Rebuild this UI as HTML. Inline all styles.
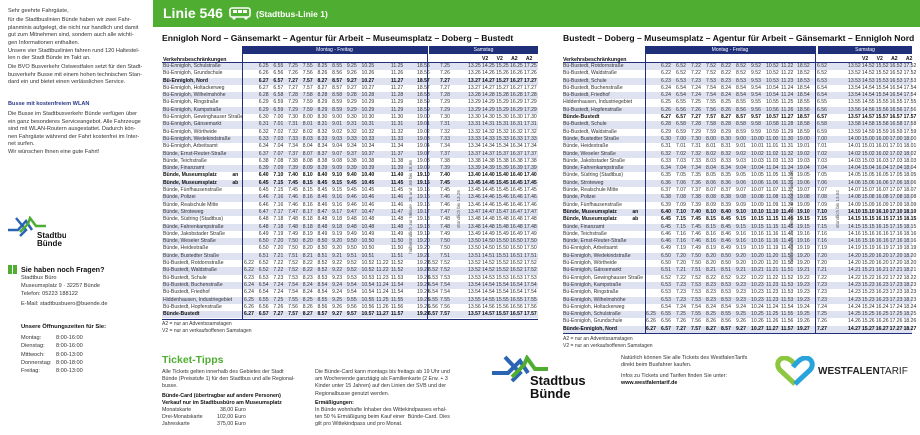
<!DOCTYPE html>
<html><head><meta charset="utf-8"><style>
*{margin:0;padding:0;box-sizing:border-box}
body{width:920px;height:435px;background:#fff;position:relative;overflow:hidden;font-family:"Liberation Sans",sans-serif;color:#333}
.a0{position:absolute;white-space:nowrap}
.lt{font-size:5.6px;line-height:7.5px}
.tb{position:absolute;top:63px}
.r{position:relative;height:7.3px;line-height:7.3px;font-size:5.1px;white-space:nowrap}
.r:nth-child(odd){background:#dfe2f1}
.r s{position:absolute;top:0;text-decoration:none}
.r i{display:inline-block;font-style:normal}
.L .n{left:1px}.L .a{left:82px}.L .a i{width:14.7px}.L .b{left:255px}.L .c{left:266px}.L .d{left:278px}.L .e{left:306px}.L .e i{width:14px}
.R .n{left:0}.R .a{left:83px}.R .a i{width:15px}.R .b{left:234px}.R .d{left:254px}.R .e{left:285px}.R .e i{width:13.9px}
.bd{font-weight:bold;color:#111}
.bar{position:absolute;background:#1f2f7a;color:#fff;font-size:5px;text-align:center;line-height:8px;height:8px}
.vl{position:absolute;width:1px;background:#1f2f7a}
.hl{position:absolute;height:1px;background:#1f2f7a}
.rot{position:absolute;writing-mode:vertical-rl;transform:rotate(180deg);font-size:4.6px;color:#555;white-space:nowrap}
</style></head><body>

<div class="a0 lt" style="left:8px;top:8px">Sehr geehrte Fahrgäste,</div>
<div class="a0 lt" style="left:8px;top:17px">für die Stadtbuslinien Bünde haben wir zwei Fahr-<br>planminis aufgelegt, die nicht nur handlich und damit<br>gut zum Mitnehmen sind, sondern auch alle wichti-<br>gen Informationen enthalten.</div>
<div class="a0 lt" style="left:8px;top:47.5px">Unsere vier Stadtbuslinien fahren rund 120 Haltestel-<br>len n der Stadt Bünde im Takt an.</div>
<div class="a0 lt" style="left:8px;top:64px">Die BVO Busverkehr Ostwestfalen setzt für den Stadt-<br>busverkehr Busse mit einem hohen technischen Stan-<br>dard ein und bietet einen verlässlichen Service.</div>
<div class="a0 lt" style="left:8px;top:101px;color:#2a3a8a;font-weight:bold">Busse mit kostenfreiem WLAN</div>
<div class="a0 lt" style="left:8px;top:111px">Die Busse im Stadtbusverkehr Bünde verfügen über<br>ein ganz besonderes Serviceangebot. Alle Fahrzeuge<br>sind mit WLAN-Routern ausgestattet. Dadurch kön-<br>nen Fahrgäste während der Fahrt kostenfrei im Inter-<br>net surfen.</div>
<div class="a0 lt" style="left:8px;top:149px">Wir wünschen Ihnen eine gute Fahrt!</div>

<svg class="a0" style="left:6px;top:216px" width="60" height="34" viewBox="0 0 60 34">
<path d="M2 14 H12 L20 5 L26 14" stroke="#2a64b4" stroke-width="2.5" fill="none"/>
<path d="M10 2 L20 14 L14 20" stroke="#2a64b4" stroke-width="2.5" fill="none"/>
<path d="M14 16 L22 8 L24 2 L30 10 H40" stroke="#4fae32" stroke-width="2.5" fill="none"/>
<text x="31" y="22" font-family="Liberation Sans" font-weight="bold" font-size="8" fill="#111">Stadtbus</text>
<text x="31" y="30" font-family="Liberation Sans" font-weight="bold" font-size="8" fill="#111">Bünde</text>
</svg>
<div class="a0" style="left:8px;top:265px;width:9px;height:9px;background:#4fae32"></div>
<div class="a0" style="left:12px;top:265px;width:1px;height:9px;background:#fff"></div>
<div class="a0" style="left:21px;top:265px;font-size:7.2px;font-weight:bold;color:#111">Sie haben noch Fragen?</div>
<div class="a0" style="left:21px;top:275px;font-size:5.6px;line-height:7.8px">Stadtbus Büro<br>Museumsplatz 9 · 32257 Bünde<br>Telefon: 05223 188122</div>
<div class="a0" style="left:21px;top:301px;font-size:5.6px">E-Mail: stadtbusbuero@buende.de</div>
<div class="a0" style="left:21px;top:324px;font-size:5.8px;font-weight:bold;color:#111">Unsere Öffnungszeiten für Sie:</div>
<div class="a0" style="left:21px;top:334px;font-size:5.6px;line-height:8.3px">Montag:<br>Dienstag:<br>Mittwoch:<br>Donnerstag:<br>Freitag:</div>
<div class="a0" style="left:56px;top:334px;font-size:5.6px;line-height:8.3px">8:00-16:00<br>8:00-16:00<br>8:00-13:00<br>8:00-18:00<br>8:00-13:00</div>

<div class="a0" style="left:153px;top:0;width:767px;height:27px;background:#4fae32"></div>
<div class="a0" style="left:163px;top:5px;font-size:14px;font-weight:bold;color:#fff">Linie 546</div>
<svg class="a0" style="left:229px;top:7px" width="22" height="13" viewBox="0 0 22 13"><rect x="1" y="1" width="20" height="9" rx="2" fill="none" stroke="#fff" stroke-width="1.6"/><rect x="4" y="3" width="4" height="3" fill="#fff"/><rect x="9" y="3" width="4" height="3" fill="#fff"/><rect x="14" y="3" width="4" height="3" fill="#fff"/><circle cx="5" cy="11" r="1.6" fill="#fff"/><circle cx="17" cy="11" r="1.6" fill="#fff"/></svg>
<div class="a0" style="left:256px;top:9px;font-size:8.5px;font-weight:bold;color:#fff">(Stadtbus-Linie 1)</div>

<div class="a0" style="left:162px;top:33px;font-size:8.6px;font-weight:bold;color:#111">Ennigloh Nord – Gänsemarkt – Agentur für Arbeit – Museumsplatz – Doberg – Bustedt</div>
<div class="a0" style="left:563px;top:33px;font-size:8.6px;font-weight:bold;color:#111">Bustedt – Doberg – Museumsplatz – Agentur für Arbeit – Gänsemarkt – Ennigloh Nord</div>

<div class="bar" style="left:242px;top:46px;width:185px">Montag - Freitag</div>
<div class="bar" style="left:429px;top:46px;width:109px">Samstag</div>
<div class="a0" style="left:163px;top:57px;font-size:5.2px;font-weight:bold;color:#111">Verkehrsbeschränkungen</div>
<div class="a0" style="left:482px;top:56px;font-size:5.1px;font-weight:bold;word-spacing:7px;color:#111">V2 V2 A2 A2</div>
<div class="hl" style="left:162px;top:62px;width:376px"></div>

<div class="bar" style="left:645px;top:46px;width:170px">Montag - Freitag</div>
<div class="bar" style="left:818px;top:46px;width:94px">Samstag</div>
<div class="a0" style="left:563px;top:57px;font-size:5.2px;font-weight:bold;color:#111">Verkehrsbeschränkungen</div>
<div class="a0" style="left:862px;top:56px;font-size:5.1px;font-weight:bold;word-spacing:7px;color:#111">V2 V2 A2 A2</div>
<div class="hl" style="left:563px;top:62px;width:349px"></div>

<div class="tb L" style="left:162px;width:376px">
<div class="r"><s class="n">Bü-Ennigloh, Schulstraße</s><s class="a"><i></i><i>6.25</i><i>6.55</i><i>7.25</i><i>7.55</i><i>8.25</i><i>8.55</i><i>9.25</i><i>10.25</i><i></i><i>11.25</i></s><s class="b">18.55</s><s class="d">7.25</s><s class="e"><i>13.25</i><i>14.25</i><i>15.25</i><i>16.25</i><i>17.25</i></s></div>
<div class="r"><s class="n">Bü-Ennigloh, Grundschule</s><s class="a"><i></i><i>6.26</i><i>6.56</i><i>7.26</i><i>7.56</i><i>8.26</i><i>8.56</i><i>9.26</i><i>10.26</i><i></i><i>11.26</i></s><s class="b">18.56</s><s class="d">7.26</s><s class="e"><i>13.26</i><i>14.26</i><i>15.26</i><i>16.26</i><i>17.26</i></s></div>
<div class="r bd"><s class="n">Bü-Ennigloh, Nord</s><s class="a"><i></i><i>6.27</i><i>6.57</i><i>7.27</i><i>7.57</i><i>8.27</i><i>8.57</i><i>9.27</i><i>10.27</i><i></i><i>11.27</i></s><s class="b">18.57</s><s class="d">7.27</s><s class="e"><i>13.27</i><i>14.27</i><i>15.27</i><i>16.27</i><i>17.27</i></s></div>
<div class="r"><s class="n">Bü-Ennigloh, Holtackerweg</s><s class="a"><i></i><i>6.27</i><i>6.57</i><i>7.27</i><i>7.57</i><i>8.27</i><i>8.57</i><i>9.27</i><i>10.27</i><i></i><i>11.27</i></s><s class="b">18.57</s><s class="d">7.27</s><s class="e"><i>13.27</i><i>14.27</i><i>15.27</i><i>16.27</i><i>17.27</i></s></div>
<div class="r"><s class="n">Bü-Ennigloh, Wilhelmshöhe</s><s class="a"><i></i><i>6.28</i><i>6.58</i><i>7.28</i><i>7.58</i><i>8.28</i><i>8.58</i><i>9.28</i><i>10.28</i><i></i><i>11.28</i></s><s class="b">18.58</s><s class="d">7.28</s><s class="e"><i>13.28</i><i>14.28</i><i>15.28</i><i>16.28</i><i>17.28</i></s></div>
<div class="r"><s class="n">Bü-Ennigloh, Ringstraße</s><s class="a"><i></i><i>6.29</i><i>6.59</i><i>7.29</i><i>7.59</i><i>8.29</i><i>8.59</i><i>9.29</i><i>10.29</i><i></i><i>11.29</i></s><s class="b">18.59</s><s class="d">7.29</s><s class="e"><i>13.29</i><i>14.29</i><i>15.29</i><i>16.29</i><i>17.29</i></s></div>
<div class="r"><s class="n">Bü-Ennigloh, Kampstraße</s><s class="a"><i></i><i>6.29</i><i>6.59</i><i>7.29</i><i>7.59</i><i>8.29</i><i>8.59</i><i>9.29</i><i>10.29</i><i></i><i>11.29</i></s><s class="b">18.59</s><s class="d">7.29</s><s class="e"><i>13.29</i><i>14.29</i><i>15.29</i><i>16.29</i><i>17.29</i></s></div>
<div class="r"><s class="n">Bü-Ennigloh, Gewinghauser Straße</s><s class="a"><i></i><i>6.30</i><i>7.00</i><i>7.30</i><i>8.00</i><i>8.30</i><i>9.00</i><i>9.30</i><i>10.30</i><i></i><i>11.30</i></s><s class="b">19.00</s><s class="d">7.30</s><s class="e"><i>13.30</i><i>14.30</i><i>15.30</i><i>16.30</i><i>17.30</i></s></div>
<div class="r"><s class="n">Bü-Ennigloh, Gänsemarkt</s><s class="a"><i></i><i>6.31</i><i>7.01</i><i>7.31</i><i>8.01</i><i>8.31</i><i>9.01</i><i>9.31</i><i>10.31</i><i></i><i>11.31</i></s><s class="b">19.01</s><s class="d">7.31</s><s class="e"><i>13.31</i><i>14.31</i><i>15.31</i><i>16.31</i><i>17.31</i></s></div>
<div class="r"><s class="n">Bü-Ennigloh, Wörtheide</s><s class="a"><i></i><i>6.32</i><i>7.02</i><i>7.32</i><i>8.02</i><i>8.32</i><i>9.02</i><i>9.32</i><i>10.32</i><i></i><i>11.32</i></s><s class="b">19.02</s><s class="d">7.32</s><s class="e"><i>13.32</i><i>14.32</i><i>15.32</i><i>16.32</i><i>17.32</i></s></div>
<div class="r"><s class="n">Bü-Ennigloh, Wedekindstraße</s><s class="a"><i></i><i>6.33</i><i>7.03</i><i>7.33</i><i>8.03</i><i>8.33</i><i>9.03</i><i>9.33</i><i>10.33</i><i></i><i>11.33</i></s><s class="b">19.03</s><s class="d">7.33</s><s class="e"><i>13.33</i><i>14.33</i><i>15.33</i><i>16.33</i><i>17.33</i></s></div>
<div class="r"><s class="n">Bü-Ennigloh, Arbeitsamt</s><s class="a"><i></i><i>6.34</i><i>7.04</i><i>7.34</i><i>8.04</i><i>8.34</i><i>9.04</i><i>9.34</i><i>10.34</i><i></i><i>11.34</i></s><s class="b">19.04</s><s class="d">7.34</s><s class="e"><i>13.34</i><i>14.34</i><i>15.34</i><i>16.34</i><i>17.34</i></s></div>
<div class="r"><s class="n">Bünde, Ernst-Reuter-Straße</s><s class="a"><i></i><i>6.37</i><i>7.07</i><i>7.37</i><i>8.07</i><i>8.37</i><i>9.07</i><i>9.37</i><i>10.37</i><i></i><i>11.37</i></s><s class="b">19.07</s><s class="d">7.37</s><s class="e"><i>13.37</i><i>14.37</i><i>15.37</i><i>16.37</i><i>17.37</i></s></div>
<div class="r"><s class="n">Bünde, Teichstraße</s><s class="a"><i></i><i>6.38</i><i>7.08</i><i>7.38</i><i>8.08</i><i>8.38</i><i>9.08</i><i>9.38</i><i>10.38</i><i></i><i>11.38</i></s><s class="b">19.08</s><s class="d">7.38</s><s class="e"><i>13.38</i><i>14.38</i><i>15.38</i><i>16.38</i><i>17.38</i></s></div>
<div class="r"><s class="n">Bünde, Finanzamt</s><s class="a"><i></i><i>6.39</i><i>7.09</i><i>7.39</i><i>8.09</i><i>8.39</i><i>9.09</i><i>9.39</i><i>10.39</i><i></i><i>11.39</i></s><s class="b">19.09</s><s class="d">7.39</s><s class="e"><i>13.39</i><i>14.39</i><i>15.39</i><i>16.39</i><i>17.39</i></s></div>
<div class="r bd"><s class="n">Bünde, Museumsplatz &nbsp; &nbsp; &nbsp; &nbsp; &nbsp; an</s><s class="a"><i></i><i>6.40</i><i>7.10</i><i>7.40</i><i>8.10</i><i>8.40</i><i>9.10</i><i>9.40</i><i>10.40</i><i></i><i>11.40</i></s><s class="b">19.10</s><s class="d">7.40</s><s class="e"><i>13.40</i><i>14.40</i><i>15.40</i><i>16.40</i><i>17.40</i></s></div>
<div class="r bd"><s class="n">Bünde, Museumsplatz &nbsp; &nbsp; &nbsp; &nbsp; &nbsp; ab</s><s class="a"><i></i><i>6.45</i><i>7.15</i><i>7.45</i><i>8.15</i><i>8.45</i><i>9.15</i><i>9.45</i><i>10.45</i><i></i><i>11.45</i></s><s class="b">19.15</s><s class="d">7.45</s><s class="e"><i>13.45</i><i>14.45</i><i>15.45</i><i>16.45</i><i>17.45</i></s></div>
<div class="r"><s class="n">Bünde, Fünfhausenstraße</s><s class="a"><i></i><i>6.45</i><i>7.15</i><i>7.45</i><i>8.15</i><i>8.45</i><i>9.15</i><i>9.45</i><i>10.45</i><i></i><i>11.45</i></s><s class="b">19.15</s><s class="d">7.45</s><s class="e"><i>13.45</i><i>14.45</i><i>15.45</i><i>16.45</i><i>17.45</i></s></div>
<div class="r"><s class="n">Bünde, Polizei</s><s class="a"><i></i><i>6.46</i><i>7.16</i><i>7.46</i><i>8.16</i><i>8.46</i><i>9.16</i><i>9.46</i><i>10.46</i><i></i><i>11.46</i></s><s class="b">19.16</s><s class="d">7.46</s><s class="e"><i>13.46</i><i>14.46</i><i>15.46</i><i>16.46</i><i>17.46</i></s></div>
<div class="r"><s class="n">Bünde, Realschule Mitte</s><s class="a"><i></i><i>6.46</i><i>7.16</i><i>7.46</i><i>8.16</i><i>8.46</i><i>9.16</i><i>9.46</i><i>10.46</i><i></i><i>11.46</i></s><s class="b">19.16</s><s class="d">7.46</s><s class="e"><i>13.46</i><i>14.46</i><i>15.46</i><i>16.46</i><i>17.46</i></s></div>
<div class="r"><s class="n">Bünde, Stroteweg</s><s class="a"><i></i><i>6.47</i><i>7.17</i><i>7.47</i><i>8.17</i><i>8.47</i><i>9.17</i><i>9.47</i><i>10.47</i><i></i><i>11.47</i></s><s class="b">19.17</s><s class="d">7.47</s><s class="e"><i>13.47</i><i>14.47</i><i>15.47</i><i>16.47</i><i>17.47</i></s></div>
<div class="r"><s class="n">Bünde, Südring (Stadtbus)</s><s class="a"><i></i><i>6.48</i><i>7.18</i><i>7.48</i><i>8.18</i><i>8.48</i><i>9.18</i><i>9.48</i><i>10.48</i><i></i><i>11.48</i></s><s class="b">19.18</s><s class="d">7.48</s><s class="e"><i>13.48</i><i>14.48</i><i>15.48</i><i>16.48</i><i>17.48</i></s></div>
<div class="r"><s class="n">Bünde, Fahrenkampstraße</s><s class="a"><i></i><i>6.48</i><i>7.18</i><i>7.48</i><i>8.18</i><i>8.48</i><i>9.18</i><i>9.48</i><i>10.48</i><i></i><i>11.48</i></s><s class="b">19.18</s><s class="d">7.48</s><s class="e"><i>13.48</i><i>14.48</i><i>15.48</i><i>16.48</i><i>17.48</i></s></div>
<div class="r"><s class="n">Bünde, Jakobstader Straße</s><s class="a"><i></i><i>6.49</i><i>7.19</i><i>7.49</i><i>8.19</i><i>8.49</i><i>9.19</i><i>9.49</i><i>10.49</i><i></i><i>11.49</i></s><s class="b">19.19</s><s class="d">7.49</s><s class="e"><i>13.49</i><i>14.49</i><i>15.49</i><i>16.49</i><i>17.49</i></s></div>
<div class="r"><s class="n">Bünde, Weseler Straße</s><s class="a"><i></i><i>6.50</i><i>7.20</i><i>7.50</i><i>8.20</i><i>8.50</i><i>9.20</i><i>9.50</i><i>10.50</i><i></i><i>11.50</i></s><s class="b">19.20</s><s class="d">7.50</s><s class="e"><i>13.50</i><i>14.50</i><i>15.50</i><i>16.50</i><i>17.50</i></s></div>
<div class="r"><s class="n">Bünde, Heidestraße</s><s class="a"><i></i><i>6.50</i><i>7.20</i><i>7.50</i><i>8.20</i><i>8.50</i><i>9.20</i><i>9.50</i><i>10.50</i><i></i><i>11.50</i></s><s class="b">19.20</s><s class="d">7.50</s><s class="e"><i>13.50</i><i>14.50</i><i>15.50</i><i>16.50</i><i>17.50</i></s></div>
<div class="r"><s class="n">Bünde, Bustedter Straße</s><s class="a"><i></i><i>6.51</i><i>7.21</i><i>7.51</i><i>8.21</i><i>8.51</i><i>9.21</i><i>9.51</i><i>10.51</i><i></i><i>11.51</i></s><s class="b">19.21</s><s class="d">7.51</s><s class="e"><i>13.51</i><i>14.51</i><i>15.51</i><i>16.51</i><i>17.51</i></s></div>
<div class="r"><s class="n">Bü-Bustedt, Rotdornstraße</s><s class="a"><i>6.22</i><i>6.52</i><i>7.22</i><i>7.52</i><i>8.22</i><i>8.52</i><i>9.22</i><i>9.52</i><i>10.52</i><i>11.22</i><i>11.52</i></s><s class="b">19.22</s><s class="c">6.52</s><s class="d">7.52</s><s class="e"><i>13.52</i><i>14.52</i><i>15.52</i><i>16.52</i><i>17.52</i></s></div>
<div class="r"><s class="n">Bü-Bustedt, Waldstraße</s><s class="a"><i>6.22</i><i>6.52</i><i>7.22</i><i>7.52</i><i>8.22</i><i>8.52</i><i>9.22</i><i>9.52</i><i>10.52</i><i>11.22</i><i>11.52</i></s><s class="b">19.22</s><s class="c">6.52</s><s class="d">7.52</s><s class="e"><i>13.52</i><i>14.52</i><i>15.52</i><i>16.52</i><i>17.52</i></s></div>
<div class="r"><s class="n">Bü-Bustedt, Schule</s><s class="a"><i>6.23</i><i>6.53</i><i>7.23</i><i>7.53</i><i>8.23</i><i>8.53</i><i>9.23</i><i>9.53</i><i>10.53</i><i>11.23</i><i>11.53</i></s><s class="b">19.23</s><s class="c">6.53</s><s class="d">7.53</s><s class="e"><i>13.53</i><i>14.53</i><i>15.53</i><i>16.53</i><i>17.53</i></s></div>
<div class="r"><s class="n">Bü-Bustedt, Buchenstraße</s><s class="a"><i>6.24</i><i>6.54</i><i>7.24</i><i>7.54</i><i>8.24</i><i>8.54</i><i>9.24</i><i>9.54</i><i>10.54</i><i>11.24</i><i>11.54</i></s><s class="b">19.24</s><s class="c">6.54</s><s class="d">7.54</s><s class="e"><i>13.54</i><i>14.54</i><i>15.54</i><i>16.54</i><i>17.54</i></s></div>
<div class="r"><s class="n">Bü-Bustedt, Friedhof</s><s class="a"><i>6.24</i><i>6.54</i><i>7.24</i><i>7.54</i><i>8.24</i><i>8.54</i><i>9.24</i><i>9.54</i><i>10.54</i><i>11.24</i><i>11.54</i></s><s class="b">19.24</s><s class="c">6.54</s><s class="d">7.54</s><s class="e"><i>13.54</i><i>14.54</i><i>15.54</i><i>16.54</i><i>17.54</i></s></div>
<div class="r"><s class="n">Hiddenhausen, Industriegebiet</s><s class="a"><i>6.25</i><i>6.55</i><i>7.25</i><i>7.55</i><i>8.25</i><i>8.55</i><i>9.25</i><i>9.55</i><i>10.55</i><i>11.25</i><i>11.55</i></s><s class="b">19.25</s><s class="c">6.55</s><s class="d">7.55</s><s class="e"><i>13.55</i><i>14.55</i><i>15.55</i><i>16.55</i><i>17.55</i></s></div>
<div class="r"><s class="n">Bü-Bustedt, Hopfenstraße</s><s class="a"><i>6.26</i><i>6.56</i><i>7.26</i><i>7.56</i><i>8.26</i><i>8.56</i><i>9.26</i><i>9.56</i><i>10.56</i><i>11.26</i><i>11.56</i></s><s class="b">19.26</s><s class="c">6.56</s><s class="d">7.56</s><s class="e"><i>13.56</i><i>14.56</i><i>15.56</i><i>16.56</i><i>17.56</i></s></div>
<div class="r bd"><s class="n">Bünde-Bustedt</s><s class="a"><i>6.27</i><i>6.57</i><i>7.27</i><i>7.57</i><i>8.27</i><i>8.57</i><i>9.27</i><i>9.57</i><i>10.57</i><i>11.27</i><i>11.57</i></s><s class="b">19.27</s><s class="c">6.57</s><s class="d">7.57</s><s class="e"><i>13.57</i><i>14.57</i><i>15.57</i><i>16.57</i><i>17.57</i></s></div>
</div>
<div class="vl" style="left:242px;top:46px;height:273px"></div>
<div class="vl" style="left:427px;top:46px;height:273px"></div>
<div class="hl" style="left:162px;top:318.5px;width:376px"></div>
<div class="rot" style="left:408px;top:160px">halbstündlich zur Minute .25 und .55 bis 18.55</div>
<div class="rot" style="left:456px;top:190px">stündlich bis 13.25</div>
<div class="a0" style="left:162px;top:321px;font-size:5px;line-height:7px">A2 = nur an Adventssamstagen<br>V2 = nur an verkaufsoffenen Samstagen</div>

<div class="tb R" style="left:563px;width:349px">
<div class="r"><s class="n">Bü-Bustedt, Rotdornstraße</s><s class="a"><i></i><i>6.22</i><i>6.52</i><i>7.22</i><i>7.52</i><i>8.22</i><i>8.52</i><i>9.52</i><i>10.52</i><i>11.22</i></s><s class="b">18.52</s><s class="d">6.52</s><s class="e"><i>13.52</i><i>14.52</i><i>15.52</i><i>16.52</i><i>17.52</i></s></div>
<div class="r"><s class="n">Bü-Bustedt, Waldstraße</s><s class="a"><i></i><i>6.22</i><i>6.52</i><i>7.22</i><i>7.52</i><i>8.22</i><i>8.52</i><i>9.52</i><i>10.52</i><i>11.22</i></s><s class="b">18.52</s><s class="d">6.52</s><s class="e"><i>13.52</i><i>14.52</i><i>15.52</i><i>16.52</i><i>17.52</i></s></div>
<div class="r"><s class="n">Bü-Bustedt, Schule</s><s class="a"><i></i><i>6.23</i><i>6.53</i><i>7.23</i><i>7.53</i><i>8.23</i><i>8.53</i><i>9.53</i><i>10.53</i><i>11.23</i></s><s class="b">18.53</s><s class="d">6.53</s><s class="e"><i>13.53</i><i>14.53</i><i>15.53</i><i>16.53</i><i>17.53</i></s></div>
<div class="r"><s class="n">Bü-Bustedt, Buchenstraße</s><s class="a"><i></i><i>6.24</i><i>6.54</i><i>7.24</i><i>7.54</i><i>8.24</i><i>8.54</i><i>9.54</i><i>10.54</i><i>11.24</i></s><s class="b">18.54</s><s class="d">6.54</s><s class="e"><i>13.54</i><i>14.54</i><i>15.54</i><i>16.54</i><i>17.54</i></s></div>
<div class="r"><s class="n">Bü-Bustedt, Friedhof</s><s class="a"><i></i><i>6.24</i><i>6.54</i><i>7.24</i><i>7.54</i><i>8.24</i><i>8.54</i><i>9.54</i><i>10.54</i><i>11.24</i></s><s class="b">18.54</s><s class="d">6.54</s><s class="e"><i>13.54</i><i>14.54</i><i>15.54</i><i>16.54</i><i>17.54</i></s></div>
<div class="r"><s class="n">Hiddenhausen, Industriegebiet</s><s class="a"><i></i><i>6.25</i><i>6.55</i><i>7.25</i><i>7.55</i><i>8.25</i><i>8.55</i><i>9.55</i><i>10.55</i><i>11.25</i></s><s class="b">18.55</s><s class="d">6.55</s><s class="e"><i>13.55</i><i>14.55</i><i>15.55</i><i>16.55</i><i>17.55</i></s></div>
<div class="r"><s class="n">Bü-Bustedt, Hopfenstraße</s><s class="a"><i></i><i>6.26</i><i>6.56</i><i>7.26</i><i>7.56</i><i>8.26</i><i>8.56</i><i>9.56</i><i>10.56</i><i>11.26</i></s><s class="b">18.56</s><s class="d">6.56</s><s class="e"><i>13.56</i><i>14.56</i><i>15.56</i><i>16.56</i><i>17.56</i></s></div>
<div class="r bd"><s class="n">Bünde-Bustedt</s><s class="a"><i></i><i>6.27</i><i>6.57</i><i>7.27</i><i>7.57</i><i>8.27</i><i>8.57</i><i>9.57</i><i>10.57</i><i>11.27</i></s><s class="b">18.57</s><s class="d">6.57</s><s class="e"><i>13.57</i><i>14.57</i><i>15.57</i><i>16.57</i><i>17.57</i></s></div>
<div class="r"><s class="n">Bü-Bustedt, Schule</s><s class="a"><i></i><i>6.28</i><i>6.58</i><i>7.28</i><i>7.58</i><i>8.28</i><i>8.58</i><i>9.58</i><i>10.58</i><i>11.28</i></s><s class="b">18.58</s><s class="d">6.58</s><s class="e"><i>13.58</i><i>14.58</i><i>15.58</i><i>16.58</i><i>17.58</i></s></div>
<div class="r"><s class="n">Bü-Bustedt, Waldstraße</s><s class="a"><i></i><i>6.29</i><i>6.59</i><i>7.29</i><i>7.59</i><i>8.29</i><i>8.59</i><i>9.59</i><i>10.59</i><i>11.29</i></s><s class="b">18.59</s><s class="d">6.59</s><s class="e"><i>13.59</i><i>14.59</i><i>15.59</i><i>16.59</i><i>17.59</i></s></div>
<div class="r"><s class="n">Bünde, Bustedter Straße</s><s class="a"><i></i><i>6.30</i><i>7.00</i><i>7.30</i><i>8.00</i><i>8.30</i><i>9.00</i><i>10.00</i><i>11.00</i><i>11.30</i></s><s class="b">19.00</s><s class="d">7.00</s><s class="e"><i>14.00</i><i>15.00</i><i>16.00</i><i>17.00</i><i>18.00</i></s></div>
<div class="r"><s class="n">Bünde, Heidestraße</s><s class="a"><i></i><i>6.31</i><i>7.01</i><i>7.31</i><i>8.01</i><i>8.31</i><i>9.01</i><i>10.01</i><i>11.01</i><i>11.31</i></s><s class="b">19.01</s><s class="d">7.01</s><s class="e"><i>14.01</i><i>15.01</i><i>16.01</i><i>17.01</i><i>18.01</i></s></div>
<div class="r"><s class="n">Bünde, Weseler Straße</s><s class="a"><i></i><i>6.32</i><i>7.02</i><i>7.32</i><i>8.02</i><i>8.32</i><i>9.02</i><i>10.02</i><i>11.02</i><i>11.32</i></s><s class="b">19.02</s><s class="d">7.02</s><s class="e"><i>14.02</i><i>15.02</i><i>16.02</i><i>17.02</i><i>18.02</i></s></div>
<div class="r"><s class="n">Bünde, Jakobstader Straße</s><s class="a"><i></i><i>6.33</i><i>7.03</i><i>7.33</i><i>8.03</i><i>8.33</i><i>9.03</i><i>10.03</i><i>11.03</i><i>11.33</i></s><s class="b">19.03</s><s class="d">7.03</s><s class="e"><i>14.03</i><i>15.03</i><i>16.03</i><i>17.03</i><i>18.03</i></s></div>
<div class="r"><s class="n">Bünde, Fahrenkampstraße</s><s class="a"><i></i><i>6.34</i><i>7.04</i><i>7.34</i><i>8.04</i><i>8.34</i><i>9.04</i><i>10.04</i><i>11.04</i><i>11.34</i></s><s class="b">19.04</s><s class="d">7.04</s><s class="e"><i>14.04</i><i>15.04</i><i>16.04</i><i>17.04</i><i>18.04</i></s></div>
<div class="r"><s class="n">Bünde, Südring (Stadtbus)</s><s class="a"><i></i><i>6.35</i><i>7.05</i><i>7.35</i><i>8.05</i><i>8.35</i><i>9.05</i><i>10.05</i><i>11.05</i><i>11.35</i></s><s class="b">19.05</s><s class="d">7.05</s><s class="e"><i>14.05</i><i>15.05</i><i>16.05</i><i>17.05</i><i>18.05</i></s></div>
<div class="r"><s class="n">Bünde, Stroteweg</s><s class="a"><i></i><i>6.36</i><i>7.06</i><i>7.36</i><i>8.06</i><i>8.36</i><i>9.06</i><i>10.06</i><i>11.06</i><i>11.36</i></s><s class="b">19.06</s><s class="d">7.06</s><s class="e"><i>14.06</i><i>15.06</i><i>16.06</i><i>17.06</i><i>18.06</i></s></div>
<div class="r"><s class="n">Bünde, Realschule Mitte</s><s class="a"><i></i><i>6.37</i><i>7.07</i><i>7.37</i><i>8.07</i><i>8.37</i><i>9.07</i><i>10.07</i><i>11.07</i><i>11.37</i></s><s class="b">19.07</s><s class="d">7.07</s><s class="e"><i>14.07</i><i>15.07</i><i>16.07</i><i>17.07</i><i>18.07</i></s></div>
<div class="r"><s class="n">Bünde, Polizei</s><s class="a"><i></i><i>6.38</i><i>7.08</i><i>7.38</i><i>8.08</i><i>8.38</i><i>9.08</i><i>10.08</i><i>11.08</i><i>11.38</i></s><s class="b">19.08</s><s class="d">7.08</s><s class="e"><i>14.08</i><i>15.08</i><i>16.08</i><i>17.08</i><i>18.08</i></s></div>
<div class="r"><s class="n">Bünde, Fünfhausenstraße</s><s class="a"><i></i><i>6.39</i><i>7.09</i><i>7.39</i><i>8.09</i><i>8.39</i><i>9.09</i><i>10.09</i><i>11.09</i><i>11.39</i></s><s class="b">19.09</s><s class="d">7.09</s><s class="e"><i>14.09</i><i>15.09</i><i>16.09</i><i>17.09</i><i>18.09</i></s></div>
<div class="r bd"><s class="n">Bünde, Museumsplatz &nbsp; &nbsp; &nbsp; &nbsp; &nbsp; an</s><s class="a"><i></i><i>6.40</i><i>7.10</i><i>7.40</i><i>8.10</i><i>8.40</i><i>9.10</i><i>10.10</i><i>11.10</i><i>11.40</i></s><s class="b">19.10</s><s class="d">7.10</s><s class="e"><i>14.10</i><i>15.10</i><i>16.10</i><i>17.10</i><i>18.10</i></s></div>
<div class="r bd"><s class="n">Bünde, Museumsplatz &nbsp; &nbsp; &nbsp; &nbsp; &nbsp; ab</s><s class="a"><i></i><i>6.45</i><i>7.15</i><i>7.45</i><i>8.15</i><i>8.45</i><i>9.15</i><i>10.15</i><i>11.15</i><i>11.45</i></s><s class="b">19.15</s><s class="d">7.15</s><s class="e"><i>14.15</i><i>15.15</i><i>16.15</i><i>17.15</i><i>18.15</i></s></div>
<div class="r"><s class="n">Bünde, Finanzamt</s><s class="a"><i></i><i>6.45</i><i>7.15</i><i>7.45</i><i>8.15</i><i>8.45</i><i>9.15</i><i>10.15</i><i>11.15</i><i>11.45</i></s><s class="b">19.15</s><s class="d">7.15</s><s class="e"><i>14.15</i><i>15.15</i><i>16.15</i><i>17.15</i><i>18.15</i></s></div>
<div class="r"><s class="n">Bünde, Teichstraße</s><s class="a"><i></i><i>6.46</i><i>7.16</i><i>7.46</i><i>8.16</i><i>8.46</i><i>9.16</i><i>10.16</i><i>11.16</i><i>11.46</i></s><s class="b">19.16</s><s class="d">7.16</s><s class="e"><i>14.16</i><i>15.16</i><i>16.16</i><i>17.16</i><i>18.16</i></s></div>
<div class="r"><s class="n">Bünde, Ernst-Reuter-Straße</s><s class="a"><i></i><i>6.46</i><i>7.16</i><i>7.46</i><i>8.16</i><i>8.46</i><i>9.16</i><i>10.16</i><i>11.16</i><i>11.46</i></s><s class="b">19.16</s><s class="d">7.16</s><s class="e"><i>14.16</i><i>15.16</i><i>16.16</i><i>17.16</i><i>18.16</i></s></div>
<div class="r"><s class="n">Bü-Ennigloh, Arbeitsamt</s><s class="a"><i></i><i>6.49</i><i>7.19</i><i>7.49</i><i>8.19</i><i>8.49</i><i>9.19</i><i>10.19</i><i>11.19</i><i>11.49</i></s><s class="b">19.19</s><s class="d">7.19</s><s class="e"><i>14.19</i><i>15.19</i><i>16.19</i><i>17.19</i><i>18.19</i></s></div>
<div class="r"><s class="n">Bü-Ennigloh, Wedekindstraße</s><s class="a"><i></i><i>6.50</i><i>7.20</i><i>7.50</i><i>8.20</i><i>8.50</i><i>9.20</i><i>10.20</i><i>11.20</i><i>11.50</i></s><s class="b">19.20</s><s class="d">7.20</s><s class="e"><i>14.20</i><i>15.20</i><i>16.20</i><i>17.20</i><i>18.20</i></s></div>
<div class="r"><s class="n">Bü-Ennigloh, Wörtheide</s><s class="a"><i></i><i>6.50</i><i>7.20</i><i>7.50</i><i>8.20</i><i>8.50</i><i>9.20</i><i>10.20</i><i>11.20</i><i>11.50</i></s><s class="b">19.20</s><s class="d">7.20</s><s class="e"><i>14.20</i><i>15.20</i><i>16.20</i><i>17.20</i><i>18.20</i></s></div>
<div class="r"><s class="n">Bü-Ennigloh, Gänsemarkt</s><s class="a"><i></i><i>6.51</i><i>7.21</i><i>7.51</i><i>8.21</i><i>8.51</i><i>9.21</i><i>10.21</i><i>11.21</i><i>11.51</i></s><s class="b">19.21</s><s class="d">7.21</s><s class="e"><i>14.21</i><i>15.21</i><i>16.21</i><i>17.21</i><i>18.21</i></s></div>
<div class="r"><s class="n">Bü-Ennigloh, Gewinghauser Straße</s><s class="a"><i></i><i>6.52</i><i>7.22</i><i>7.52</i><i>8.22</i><i>8.52</i><i>9.22</i><i>10.22</i><i>11.22</i><i>11.52</i></s><s class="b">19.22</s><s class="d">7.22</s><s class="e"><i>14.22</i><i>15.22</i><i>16.22</i><i>17.22</i><i>18.22</i></s></div>
<div class="r"><s class="n">Bü-Ennigloh, Kampstraße</s><s class="a"><i></i><i>6.53</i><i>7.23</i><i>7.53</i><i>8.23</i><i>8.53</i><i>9.23</i><i>10.23</i><i>11.23</i><i>11.53</i></s><s class="b">19.23</s><s class="d">7.23</s><s class="e"><i>14.23</i><i>15.23</i><i>16.23</i><i>17.23</i><i>18.23</i></s></div>
<div class="r"><s class="n">Bü-Ennigloh, Ringstraße</s><s class="a"><i></i><i>6.53</i><i>7.23</i><i>7.53</i><i>8.23</i><i>8.53</i><i>9.23</i><i>10.23</i><i>11.23</i><i>11.53</i></s><s class="b">19.23</s><s class="d">7.23</s><s class="e"><i>14.23</i><i>15.23</i><i>16.23</i><i>17.23</i><i>18.23</i></s></div>
<div class="r"><s class="n">Bü-Ennigloh, Wilhelmshöhe</s><s class="a"><i></i><i>6.53</i><i>7.23</i><i>7.53</i><i>8.23</i><i>8.53</i><i>9.23</i><i>10.23</i><i>11.23</i><i>11.53</i></s><s class="b">19.23</s><s class="d">7.23</s><s class="e"><i>14.23</i><i>15.23</i><i>16.23</i><i>17.23</i><i>18.23</i></s></div>
<div class="r"><s class="n">Bü-Ennigloh, Holtackerweg</s><s class="a"><i></i><i>6.54</i><i>7.24</i><i>7.54</i><i>8.24</i><i>8.54</i><i>9.24</i><i>10.24</i><i>11.24</i><i>11.54</i></s><s class="b">19.24</s><s class="d">7.24</s><s class="e"><i>14.24</i><i>15.24</i><i>16.24</i><i>17.24</i><i>18.24</i></s></div>
<div class="r"><s class="n">Bü-Ennigloh, Schulstraße</s><s class="a"><i>6.25</i><i>6.55</i><i>7.25</i><i>7.55</i><i>8.25</i><i>8.55</i><i>9.25</i><i>10.25</i><i>11.25</i><i>11.55</i></s><s class="b">19.25</s><s class="d">7.25</s><s class="e"><i>14.25</i><i>15.25</i><i>16.25</i><i>17.25</i><i>18.25</i></s></div>
<div class="r"><s class="n">Bü-Ennigloh, Grundschule</s><s class="a"><i>6.26</i><i>6.56</i><i>7.26</i><i>7.56</i><i>8.26</i><i>8.56</i><i>9.26</i><i>10.26</i><i>11.26</i><i>11.56</i></s><s class="b">19.26</s><s class="d">7.26</s><s class="e"><i>14.26</i><i>15.26</i><i>16.26</i><i>17.26</i><i>18.26</i></s></div>
<div class="r bd"><s class="n">Bünde-Ennigloh, Nord</s><s class="a"><i>6.27</i><i>6.57</i><i>7.27</i><i>7.57</i><i>8.27</i><i>8.57</i><i>9.27</i><i>10.27</i><i>11.27</i><i>11.57</i></s><s class="b">19.27</s><s class="d">7.27</s><s class="e"><i>14.27</i><i>15.27</i><i>16.27</i><i>17.27</i><i>18.27</i></s></div>
</div>
<div class="vl" style="left:645px;top:46px;height:287px"></div>
<div class="vl" style="left:815px;top:46px;height:287px"></div>
<div class="hl" style="left:563px;top:333px;width:349px"></div>
<div class="rot" style="left:789px;top:170px">halbstündlich zur Minute .22 und .52 bis 18.52</div>
<div class="rot" style="left:835px;top:190px">stündlich bis 13.52</div>
<div class="a0" style="left:563px;top:336px;font-size:5px;line-height:7px">A2 = nur an Adventssamstagen<br>V2 = nur an verkaufsoffenen Samstagen</div>

<div class="a0" style="left:162px;top:354px;font-size:10.5px;font-weight:bold;color:#4fae32">Ticket-Tipps</div>
<div class="a0" style="left:162px;top:369px;font-size:5.3px;line-height:7.2px">Alle Tickets gelten innerhalb des Gebietes der Stadt<br>Bünde (Preisstufe 1) für den Stadtbus und alle Regional-<br>busse.</div>
<div class="a0" style="left:162px;top:393px;font-size:5.3px;line-height:7.2px;font-weight:bold;color:#111">Bünde-Card (übertragbar auf andere Personen)<br>Verkauf nur im Stadtbusbüro am Museumsplatz</div>
<div class="a0" style="left:162px;top:407px;font-size:5.3px;line-height:7px">Monatskarte<br>Drei-Monatskarte<br>Jahreskarte</div>
<div class="a0" style="left:217px;top:407px;font-size:5.3px;line-height:7px">&nbsp;&nbsp;38,00 Euro<br>102,00 Euro<br>375,00 Euro</div>
<div class="a0" style="left:315px;top:369px;font-size:5.3px;line-height:7.2px">Die Bünde-Card kann montags bis freitags ab 19 Uhr und<br>am Wochenende ganztägig als Familienkarte (2 Erw. + 3<br>Kinder unter 15 Jahren) auf den Linien der SVB und der<br>Regionalbusse genutzt werden.</div>
<div class="a0" style="left:315px;top:400px;font-size:5.3px;font-weight:bold;color:#111">Ermäßigungen:</div>
<div class="a0" style="left:315px;top:407px;font-size:5.3px;line-height:7.2px">In Bünde wohnhafte Inhaber des Wittekindpasses erhal-<br>ten 50 % Ermäßigung beim Kauf einer &nbsp;Bünde-Card. Dies<br>gilt pro Wittekindpass und pro Monat.</div>

<svg class="a0" style="left:490px;top:355px" width="95" height="45" viewBox="0 0 95 45">
<path d="M2 18 H18 L30 6 L38 18" stroke="#2a64b4" stroke-width="4" fill="none"/>
<path d="M15 2 L30 18 L22 26" stroke="#2a64b4" stroke-width="4" fill="none"/>
<path d="M22 22 L34 10 L37 3 L45 14 H58" stroke="#4fae32" stroke-width="4" fill="none"/>
<text x="40" y="30" font-family="Liberation Sans" font-weight="bold" font-size="13" fill="#111">Stadtbus</text>
<text x="40" y="43" font-family="Liberation Sans" font-weight="bold" font-size="13" fill="#111">Bünde</text>
</svg>
<div class="a0" style="left:621px;top:355px;font-size:5.4px;line-height:7.3px">Natürlich können Sie alle Tickets des WestfalenTarifs<br>direkt beim Busfahrer kaufen.</div>
<div class="a0" style="left:621px;top:373px;font-size:5.4px;line-height:7.3px">Infos zu Tickets und Tarifen finden Sie unter:<br><b style="color:#111">www.westfalentarif.de</b></div>
<svg class="a0" style="left:775px;top:356px" width="40" height="30" viewBox="0 0 40 30">
<path d="M20 28 L5 14 C0 8 4 1 11 2 C15 3 18 6 20 9" stroke="#8dc63f" stroke-width="5" fill="none"/>
<path d="M20 28 L35 14 C40 8 36 1 29 2 C25 3 22 6 18 11" stroke="#29a3db" stroke-width="5" fill="none"/>
</svg>
<div class="a0" style="left:818px;top:366px;font-size:10px;font-weight:bold;color:#222">WESTFALEN<span style="font-weight:normal">TARIF</span></div>
</body></html>
